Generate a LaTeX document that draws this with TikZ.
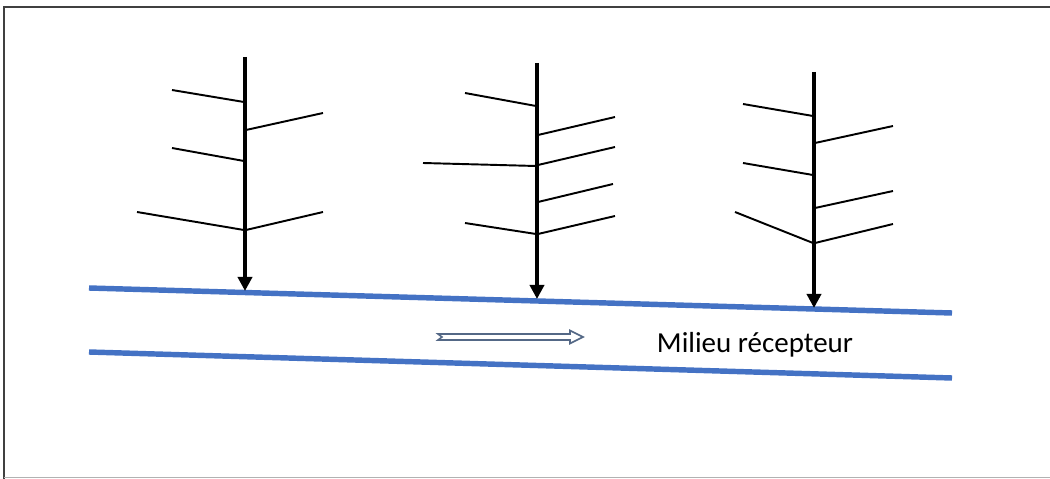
\documentclass[tikz,border=0pt]{standalone}
\usepackage{fontspec}
\setmainfont{Carlito}
\usetikzlibrary{arrows.meta}
\definecolor{riverblue}{RGB}{68,114,196}
\definecolor{arrowgrey}{RGB}{84,104,134}
\begin{document}
\begin{tikzpicture}[x=0.02cm,y=-0.02cm]
\useasboundingbox (0,0) rectangle (1050,479);
% frame
\draw [line width=1.6pt,black!75] (4,479) -- (4,7) -- (1050,7);
\draw [line width=0.8pt,black!30] (4,477.5) -- (1050,477.5);
% receiving medium
\draw [line width=3.1pt,riverblue] (89,288) -- (952,313);
\draw [line width=3.1pt,riverblue] (89,352) -- (952,378);
\node at (755,345) {\fontsize{16.5}{19}\selectfont Milieu récepteur};
% flow arrow
\draw [line width=0.9pt,arrowgrey,fill=white] (438,334) -- (570,334) -- (570,330.5) -- (583,337) -- (570,343.5) -- (570,340) -- (438,340) -- (442,337) -- cycle;
% first tree
\draw [line width=2.3pt,-{Triangle[width=8pt,length=8pt]}] (245,57) -- (245,291);
\draw [line width=1.1pt] (172,90) -- (244,102);
\draw [line width=1.1pt] (246,130) -- (323,113);
\draw [line width=1.1pt] (172,148) -- (244,161);
\draw [line width=1.1pt] (137,212) -- (244,230);
\draw [line width=1.1pt] (246,230) -- (323,212);
% second tree
\draw [line width=2.3pt,-{Triangle[width=8pt,length=8pt]}] (537,63) -- (537,299);
\draw [line width=1.1pt] (465,93) -- (536,106);
\draw [line width=1.1pt] (538,135) -- (615,117);
\draw [line width=1.1pt] (423,163) -- (536,166);
\draw [line width=1.1pt] (538,165) -- (615,147);
\draw [line width=1.1pt] (538,202) -- (613,184);
\draw [line width=1.1pt] (465,223) -- (536,234);
\draw [line width=1.1pt] (538,234) -- (615,216);
% third tree
\draw [line width=2.3pt,-{Triangle[width=8pt,length=8pt]}] (814,72) -- (814,308);
\draw [line width=1.1pt] (743,104) -- (813,116);
\draw [line width=1.1pt] (815,143) -- (893,126);
\draw [line width=1.1pt] (743,163) -- (813,175);
\draw [line width=1.1pt] (815,208) -- (893,191);
\draw [line width=1.1pt] (735,212) -- (813,243);
\draw [line width=1.1pt] (815,243) -- (893,224);
\end{tikzpicture}
\end{document}
